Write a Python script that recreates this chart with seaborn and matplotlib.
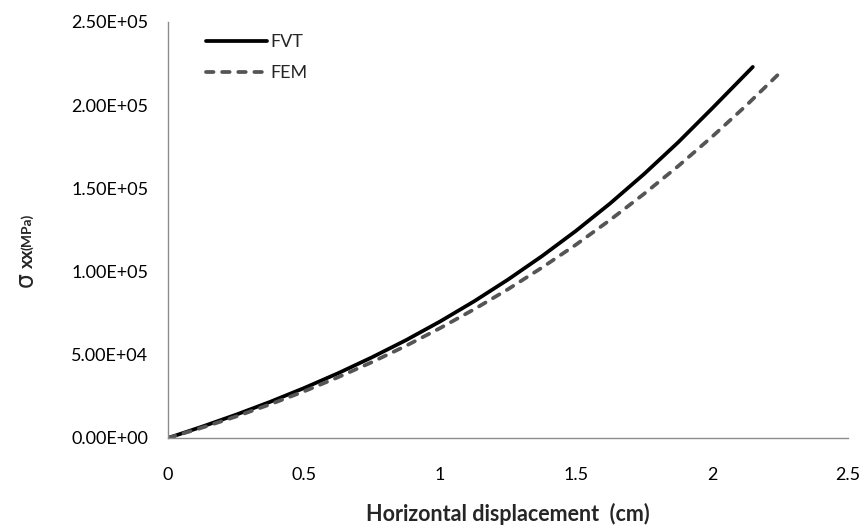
import numpy as np
import pandas as pd
import seaborn as sns
import matplotlib
matplotlib.use("Agg")
import matplotlib.pyplot as plt
from matplotlib.ticker import FuncFormatter

# values
fvt_x = [0, 0.125, 0.25, 0.375, 0.5, 0.625, 0.75, 0.875, 1.0, 1.125, 1.25,
         1.375, 1.5, 1.625, 1.75, 1.875, 2.0, 2.15]
fvt_y = [0, 6800, 14000, 21700, 30000, 38900, 48500, 58800, 70000, 82100, 95200,
         109300, 124500, 140900, 158600, 177600, 198000, 223000]
fem_x = [0, 0.125, 0.25, 0.375, 0.5, 0.625, 0.75, 0.875, 1.0, 1.125, 1.25,
         1.375, 1.5, 1.625, 1.75, 1.875, 2.0, 2.125, 2.25]
fem_y = [0, 6200, 12900, 20200, 28000, 36500, 45600, 55400, 66000, 77300, 89400,
         102400, 116200, 131000, 146700, 163300, 181000, 199700, 219500]

x_ticks = [0, 0.5, 1, 1.5, 2, 2.5]
x_tick_labels = ["0", "0.5", "1", "1.5", "2", "2.5"]
y_ticks = [0, 50000, 100000, 150000, 200000, 250000]

df = pd.concat([
    pd.DataFrame({"x": fvt_x, "y": fvt_y, "method": "FVT"}),
    pd.DataFrame({"x": fem_x, "y": fem_y, "method": "FEM"}),
])

sns.set_style("white")
plt.rcParams["font.family"] = ["Lato", "DejaVu Sans"]

fig = plt.figure(figsize=(8.67, 5.30), dpi=100)
ax = fig.add_axes([168 / 867, 1 - 438 / 530, (848 - 168) / 867, (438 - 22) / 530])

sns.lineplot(data=df, x="x", y="y", hue="method", style="method",
             palette={"FVT": "black", "FEM": "#555555"},
             dashes={"FVT": "", "FEM": (2.0, 2.3)},
             linewidth=2.7, ax=ax, sort=False)
for ln in ax.get_lines():
    ln.set_dash_capstyle("round")
    ln.set_solid_capstyle("round")

ax.set_xlim(0, 2.5)
ax.set_ylim(0, 250000)
ax.set_xticks(x_ticks)
ax.set_xticklabels(x_tick_labels)
ax.set_yticks(y_ticks)
ax.yaxis.set_major_formatter(FuncFormatter(lambda v, p: f"{v:.2E}"))

for s in ["top", "right"]:
    ax.spines[s].set_visible(False)
for s in ["left", "bottom"]:
    ax.spines[s].set_color("#8c8c8c")
    ax.spines[s].set_linewidth(1.0)
ax.tick_params(axis="both", direction="out", length=5, width=1, color="#8c8c8c",
               labelsize=13, labelcolor="black")
ax.tick_params(axis="y", pad=9)
ax.tick_params(axis="x", pad=16)

ax.set_xlabel("Horizontal displacement  (cm)", fontsize=15.5, fontweight="bold", labelpad=14.5)
ax.set_ylabel("")

# y label built from pieces: big sigma, subscript xx, small unit
fig.text(26 / 867, 1 - 287 / 530, "σ", rotation=90, fontsize=17,
         ha="center", va="bottom", family=["DejaVu Sans"])
fig.text(27 / 867, 1 - 268 / 530, "xx", rotation=90, fontsize=13.5, fontweight="bold",
         ha="center", va="bottom")
fig.text(27 / 867, 1 - 250 / 530, "(MPa)", rotation=90, fontsize=10, fontweight="bold",
         ha="center", va="bottom")

leg = ax.legend(loc="upper left", bbox_to_anchor=(0.032, 1.01), frameon=False,
                handlelength=3.4, handletextpad=0.15, labelspacing=0.85, fontsize=13)

fig.savefig("out.png", dpi=100)
